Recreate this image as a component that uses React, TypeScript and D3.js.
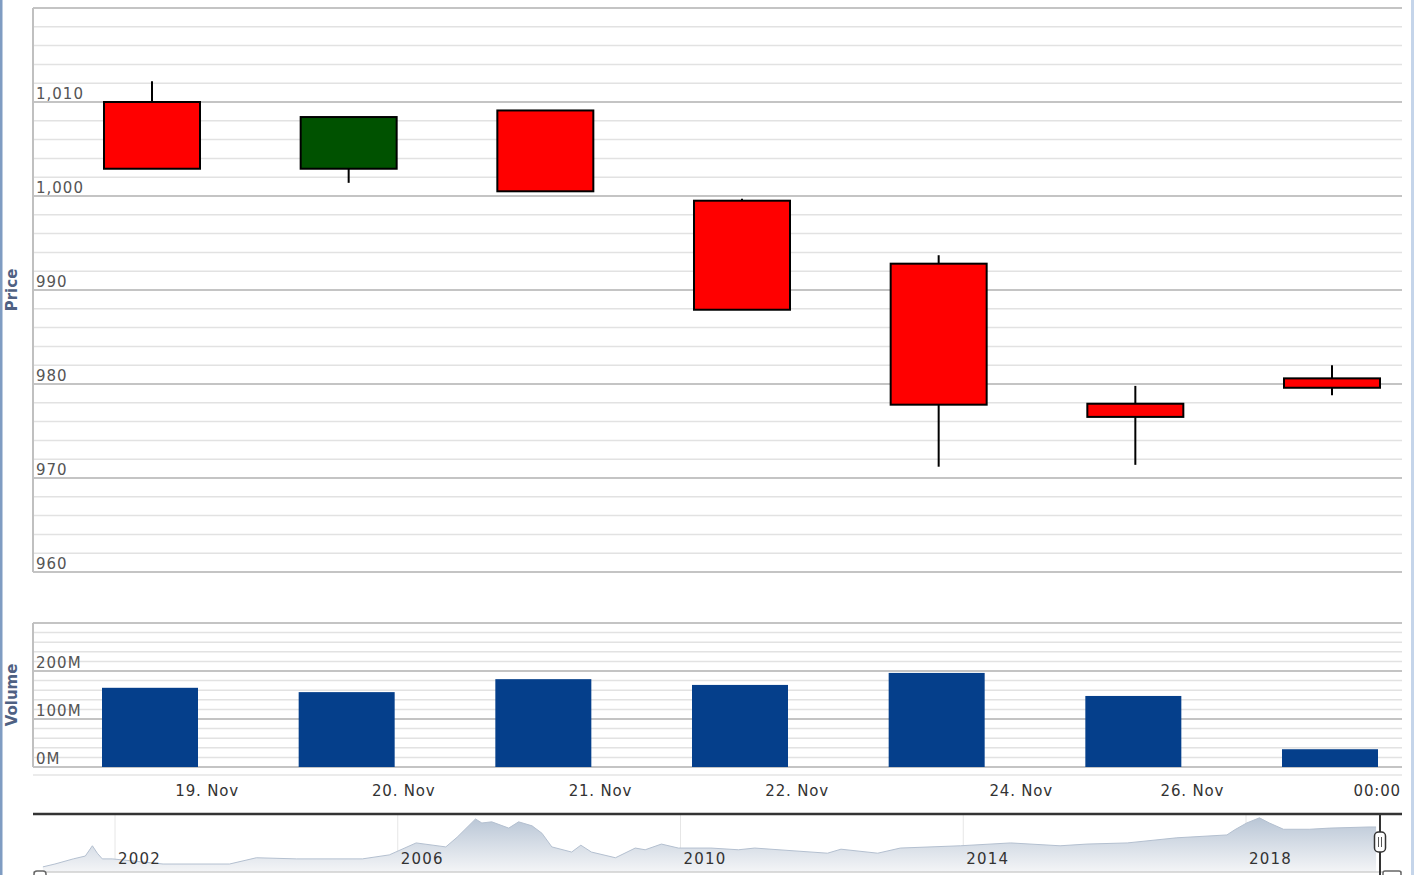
import React from "react";
import * as d3 from "d3";

// ---- Data ----
const candleDates = ["19. Nov", "20. Nov", "21. Nov", "22. Nov", "23. Nov", "25. Nov", "26. Nov"];
const opens = [1010.0, 1002.9, 1009.1, 999.5, 992.8, 977.9, 980.6];
const highs = [1012.2, 1008.4, 1009.1, 999.7, 993.7, 979.8, 982.0];
const lows = [1002.9, 1001.4, 1000.5, 987.9, 971.2, 971.4, 978.8];
const closes = [1002.9, 1008.4, 1000.5, 987.9, 977.8, 976.5, 979.6];
const volumes = [165, 156, 183, 171, 196, 148, 37]; // millions

const xTickLabels = ["19. Nov", "20. Nov", "21. Nov", "22. Nov", "24. Nov", "26. Nov", "00:00"];
const xTickIndex = [0.28, 1.28, 2.28, 3.28, 4.42, 5.29, 6.23];

const priceTicks = [960, 970, 980, 990, 1000, 1010];
const volumeTicks = [0, 100, 200];

const navYears = [
  2000.98, 2001.15, 2001.41, 2001.58, 2001.68, 2001.75, 2001.82, 2001.96, 2002.68, 2003.62,
  2004.0, 2004.57, 2005.5, 2005.88, 2006.26, 2006.68, 2006.84, 2007.1, 2007.19, 2007.33,
  2007.57, 2007.71, 2007.9, 2008.04, 2008.18, 2008.46, 2008.59, 2008.74, 2009.08, 2009.36,
  2009.5, 2009.73, 2009.97, 2010.43, 2010.82, 2011.05, 2011.62, 2012.08, 2012.27, 2012.79,
  2013.11, 2013.96, 2014.67, 2015.37, 2015.75, 2016.32, 2017.02, 2017.73, 2017.84, 2018.01,
  2018.19, 2018.33, 2018.53, 2018.9, 2019.18, 2019.74, 2019.84,
];
const navValues = [
  9, 14, 23, 28, 46, 33, 23, 23, 14, 14,
  25, 23, 23, 30, 51, 44, 61, 93, 86, 88,
  77, 88, 81, 68, 44, 35, 47, 35, 25, 42,
  39, 49, 42, 42, 39, 42, 37, 33, 40, 33,
  42, 46, 51, 46, 49, 51, 60, 65, 74, 86,
  95, 86, 75, 75, 77, 79, 79,
];
const navYearTicks = [2002, 2006, 2010, 2014, 2018];

const FONT = "'DejaVu Sans', Verdana, sans-serif";

export default function App() {
  const left = 33;
  const right = 1402;

  const x = d3.scaleLinear().domain([0, 6]).range([152, 1332]);
  const bandW = 96;

  const yP = d3.scaleLinear().domain([960, 1020]).range([572, 8]);
  const yV = d3.scaleLinear().domain([0, 300]).range([767, 623]);

  const xN = d3.scaleLinear().domain([2002, 2018]).range([115, 1246]);
  const yN = d3.scaleLinear().domain([0, 100]).range([872, 815]);

  const priceMinor = d3.range(960, 1020.01, 2);
  const volMinor = d3.range(0, 300.01, 20);

  const area = d3
    .area<number>()
    .x((_, i) => xN(navYears[i]))
    .y0(yN(0))
    .y1((d) => yN(d))
    .curve(d3.curveLinear);
  const line = d3
    .line<number>()
    .x((_, i) => xN(navYears[i]))
    .y((d) => yN(d));

  return (
    <svg
      width={1417}
      height={875}
      style={{ position: "fixed", left: 0, top: 0, background: "#fff" }}
      fontFamily={FONT}
    >
      <defs>
        <linearGradient id="navGrad" x1="0" y1="0" x2="0" y2="1">
          <stop offset="0%" stopColor="#b9c6d6" />
          <stop offset="100%" stopColor="#f4f5f7" />
        </linearGradient>
      </defs>
      <rect x={0} y={0} width={1417} height={875} fill="#fff" />
      {/* outer frame edges */}
      <rect x={0} y={0} width={2.5} height={875} fill="#7f9cc2" />
      <rect x={1411} y={0} width={3} height={875} fill="#c5d5ea" />

      {/* ---- Price panel ---- */}
      {priceMinor.map((v) => (
        <line key={"pm" + v} x1={left} x2={right} y1={yP(v)} y2={yP(v)} stroke="#e2e2e2" strokeWidth={1.5} />
      ))}
      {priceTicks.map((v) => (
        <line key={"pt" + v} x1={left} x2={right} y1={yP(v)} y2={yP(v)} stroke="#c4c4c4" strokeWidth={2} />
      ))}
      <line x1={left} x2={right} y1={yP(1020)} y2={yP(1020)} stroke="#c4c4c4" strokeWidth={2} />
      <line x1={left} x2={left} y1={yP(1020)} y2={yP(960)} stroke="#c0c0c0" strokeWidth={2} />
      {priceTicks.map((v) => (
        <text
          key={"ptl" + v}
          x={36}
          y={yP(v) - 3}
          fontSize={15}
          fill="#555"
          letterSpacing={1}
        >
          {d3.format(",")(v)}
        </text>
      ))}
      <text
        transform={`translate(17,290) rotate(-90)`}
        textAnchor="middle"
        fontSize={15}
        fontWeight="bold"
        fill="#4f6183"
      >
        Price
      </text>

      {/* candles */}
      {opens.map((o, i) => {
        const c = closes[i];
        const up = c > o;
        const cx = x(i);
        const top = yP(Math.max(o, c));
        const bot = yP(Math.min(o, c));
        return (
          <g key={"c" + i}>
            <line x1={cx} x2={cx} y1={yP(highs[i])} y2={yP(lows[i])} stroke="#000" strokeWidth={2} />
            <rect
              x={cx - bandW / 2}
              y={top}
              width={bandW}
              height={Math.max(bot - top, 1)}
              fill={up ? "#005200" : "#ff0000"}
              stroke="#000"
              strokeWidth={2}
            />
          </g>
        );
      })}

      {/* ---- Volume panel ---- */}
      {volMinor.map((v) => (
        <line key={"vm" + v} x1={left} x2={right} y1={yV(v)} y2={yV(v)} stroke="#e2e2e2" strokeWidth={1.5} />
      ))}
      {volumeTicks.map((v) => (
        <line key={"vt" + v} x1={left} x2={right} y1={yV(v)} y2={yV(v)} stroke="#c4c4c4" strokeWidth={2} />
      ))}
      <line x1={left} x2={right} y1={yV(300)} y2={yV(300)} stroke="#c4c4c4" strokeWidth={2} />
      <line x1={left} x2={left} y1={yV(300)} y2={yV(0)} stroke="#c0c0c0" strokeWidth={2} />
      <line x1={left} x2={right} y1={775} y2={775} stroke="#e4e4e4" strokeWidth={1.5} />
      {volumes.map((v, i) => (
        <rect
          key={"v" + i}
          x={x(i) - 2 - bandW / 2}
          y={yV(v)}
          width={bandW}
          height={yV(0) - yV(v)}
          fill="#053f8b"
        />
      ))}
      {volumeTicks.map((v) => (
        <text key={"vtl" + v} x={36} y={yV(v) - 3} fontSize={15} fill="#555" letterSpacing={1}>
          {v + "M"}
        </text>
      ))}
      <text
        transform={`translate(17,695) rotate(-90)`}
        textAnchor="middle"
        fontSize={15}
        fontWeight="bold"
        fill="#4f6183"
      >
        Volume
      </text>

      {/* x-axis labels */}
      {xTickLabels.map((t, i) => (
        <text
          key={"xl" + i}
          x={x(xTickIndex[i])}
          y={796}
          textAnchor="middle"
          fontSize={15}
          fill="#333"
          letterSpacing={0.8}
        >
          {t}
        </text>
      ))}

      {/* ---- Navigator ---- */}
      {navYearTicks.map((yr) => (
        <line key={"ng" + yr} x1={xN(yr)} x2={xN(yr)} y1={815} y2={872} stroke="#e6e6e6" strokeWidth={1} />
      ))}
      <path d={area(navValues) || ""} fill="url(#navGrad)" />
      <path d={line(navValues) || ""} fill="none" stroke="#b4c0d0" strokeWidth={1} />
      {navYearTicks.map((yr) => (
        <text key={"nl" + yr} x={xN(yr) + 3} y={864} fontSize={15} fill="#333" letterSpacing={1.2}>
          {yr}
        </text>
      ))}
      <line x1={left} x2={right} y1={814} y2={814} stroke="#333" strokeWidth={2.5} />
      <line x1={left} x2={right} y1={872} y2={872} stroke="#cfcfcf" strokeWidth={1.5} />
      <rect x={34} y={871} width={12} height={10} rx={3} fill="#fff" stroke="#666" strokeWidth={1.5} />
      <line x1={1380} x2={1380} y1={814} y2={875} stroke="#333" strokeWidth={2} />
      <rect x={1383} y={871} width={18} height={10} rx={2} fill="#fff" stroke="#666" strokeWidth={1.5} />
      <rect x={1374.5} y={832} width={11} height={20} rx={4} fill="#fff" stroke="#333" strokeWidth={1.5} />
      <line x1={1378.5} x2={1378.5} y1={837} y2={847} stroke="#555" strokeWidth={1} />
      <line x1={1381.5} x2={1381.5} y1={837} y2={847} stroke="#555" strokeWidth={1} />
    </svg>
  );
}
